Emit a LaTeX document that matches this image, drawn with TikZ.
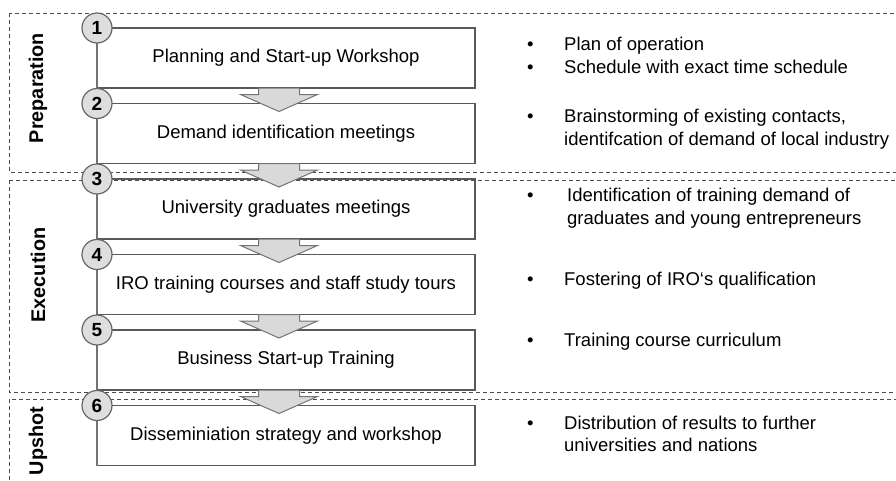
\documentclass[tikz,border=0pt]{standalone}
\usepackage{fontspec}
\setmainfont{Liberation Sans}
\usetikzlibrary{positioning,calc}

\begin{document}
\begin{tikzpicture}[x=1pt, y=-1pt, node distance=15.5pt,
    stepbox/.style={draw=black!65, line width=1.2pt, rectangle, minimum width=378pt, minimum height=60pt, outer sep=0pt, font=\fontsize{18.5}{22}\selectfont},
    numdot/.style={draw=black!60, fill=black!13, circle, line width=1.2pt, minimum size=30pt, inner sep=0pt, font=\fontsize{19}{20}\selectfont\bfseries},
    phase/.style={rotate=90, font=\fontsize{19.8}{22}\selectfont\bfseries},
    note/.style={anchor=west, inner sep=0pt, font=\fontsize{18.5}{22.5}\selectfont},
    frame/.style={draw=black!70, line width=0.9pt, dash pattern=on 4pt off 3pt},
    spine/.style={draw=black!55, line width=1.5pt},
    blockarr/.style={draw=black!55, fill=black!15, line width=1pt, line join=miter}]
    \useasboundingbox (0,0) rectangle (896,480);

    % phases
    \draw[frame] (9,13) rectangle (905,172);
    \draw[frame] (9,180) rectangle (905,392);
    \draw[frame] (9,399) rectangle (905,490);
    \node[phase] (prep) at (38,88) {Preparation};
    \node[phase] (exec) at (38,275) {Execution};
    \node[phase] (upshot) at (38,441) {Upshot};

    % steps
    \node[stepbox] (b1) at (286,58) {Planning and Start-up Workshop};
    \node[stepbox, below=of b1] (b2) {Demand identification meetings};
    \node[stepbox, below=of b2] (b3) {University graduates meetings};
    \node[stepbox, below=of b3] (b4) {IRO training courses and staff study tours};
    \node[stepbox, below=of b4] (b5) {Business Start-up Training};
    \node[stepbox, below=of b5] (b6) {Disseminiation strategy and workshop};
    \draw[spine] (b1.north west) -- (b6.south west);

    \foreach \a/\b in {b1/b2, b2/b3, b3/b4, b4/b5, b5/b6}
        \draw[blockarr] ($(\a.south)+(-27.5,0)$) |- ($(\b.north)+(-45.5,-9)$) -- ($(\b.north)+(-7,8)$) -- ($(\b.north)+(31.5,-9)$) -| ($(\a.south)+(13.5,0)$) -- cycle;

    \foreach \i in {1,...,6}
        \node[numdot] (c\i) at (b\i.north west) {\i};

    % results
    \node[note] (t1) at (527,57.5) {\begin{tabular}{@{}p{37pt}@{}l@{}}\textbullet & Plan of operation\\ \textbullet & Schedule with exact time schedule\end{tabular}};
    \node[note] (t2) at (527,129.5) {\begin{tabular}{@{}p{37pt}@{}l@{}}\textbullet & Brainstorming of existing contacts,\\ & identifcation of demand of local industry\end{tabular}};
    \node[note] (t3) at (527,208.5) {\begin{tabular}{@{}p{40pt}@{}l@{}}\textbullet & Identification of training demand of\\ & graduates and young entrepreneurs\end{tabular}};
    \node[note] (t4) at (527,280.5) {\begin{tabular}{@{}p{37pt}@{}l@{}}\textbullet & Fostering of IRO‘s qualification\end{tabular}};
    \node[note] (t5) at (527,342) {\begin{tabular}{@{}p{37pt}@{}l@{}}\textbullet & Training course curriculum\end{tabular}};
    \node[note] (t6) at (527,436) {\begin{tabular}{@{}p{37pt}@{}l@{}}\textbullet & Distribution of results to further\\ & universities and nations\end{tabular}};
\end{tikzpicture}
\end{document}
